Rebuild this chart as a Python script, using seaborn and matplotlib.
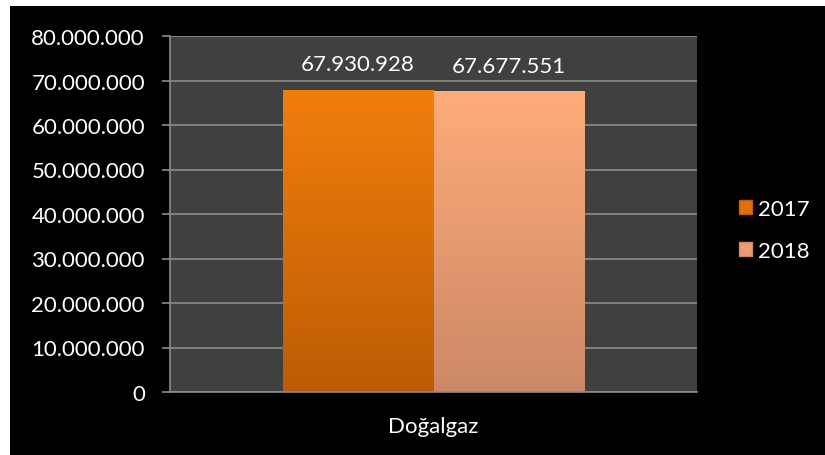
import numpy as np
import pandas as pd
import matplotlib
matplotlib.use("Agg")
import matplotlib.pyplot as plt
import matplotlib.colors as mcolors
from matplotlib.patches import Patch, Rectangle
from matplotlib.ticker import FuncFormatter, MultipleLocator
import seaborn as sns

# Data
kategoriler = ["Doğalgaz"]
yillar = ["2017", "2018"]
degerler = [67930928, 67677551]

df = pd.DataFrame({
    "kaynak": kategoriler * len(yillar),
    "yil": yillar,
    "deger": degerler,
})

# Style
sns.set_theme(style="dark")
plt.rcParams["font.family"] = ["Lato", "DejaVu Sans"]
TXT = "white"
FS = 16

renk_ust = ["#F27E0C", "#FFAC7A"]
renk_alt = ["#BC5C05", "#CC8866"]
renk_orta = ["#E07008", "#EE9C70"]

fig = plt.figure(figsize=(8.25, 4.56), dpi=100, facecolor="white")
# black chart area with thin white margin top/left
fig.patches.append(Rectangle((10 / 825, 0), 1, 1 - 7 / 456, transform=fig.transFigure,
                             facecolor="black", edgecolor="none", zorder=-10))

ax = fig.add_axes([170 / 825, 1 - 393 / 456, (697 - 170) / 825, (393 - 37) / 456])
ax.set_facecolor("#404040")

sns.barplot(data=df, x="kaynak", y="deger", hue="yil", palette=renk_orta,
            width=0.573, ax=ax, legend=False, saturation=1,
            edgecolor="#8a4a10", linewidth=0.6)

# gradient fill for bars
for i, p in enumerate(ax.patches):
    x0, y0 = p.get_x(), p.get_y()
    w, h = p.get_width(), p.get_height()
    cmap = mcolors.LinearSegmentedColormap.from_list("g", [renk_ust[i], renk_alt[i]])
    grad = np.linspace(0, 1, 256).reshape(-1, 1)
    im = ax.imshow(grad, cmap=cmap, extent=[x0, x0 + w, y0, y0 + h], aspect="auto",
                   origin="upper", zorder=p.get_zorder() + 0.1, interpolation="bicubic")
    im.set_clip_path(p)

# value labels
for i, p in enumerate(ax.patches):
    xc = p.get_x() + p.get_width() / 2
    ax.annotate(f"{degerler[i]:,}".replace(",", "."), (xc, p.get_height()),
                xytext=(0, 11), textcoords="offset points", ha="center", va="bottom",
                color=TXT, fontsize=FS)

ax.set_xlim(-0.5, 0.5)
ax.set_ylim(0, 80000000)
ax.set_aspect("auto")

ax.yaxis.set_major_locator(MultipleLocator(10000000))
ax.yaxis.set_major_formatter(FuncFormatter(lambda v, _: f"{int(v):,}".replace(",", ".")))
ax.grid(axis="y", color="#8C8C8C", linewidth=1.2)
ax.grid(axis="x", visible=False)
ax.set_axisbelow(True)

ax.set_xticks([0])
ax.set_xticklabels(kategoriler)
ax.set_xticks([-0.5, 0.5], minor=True)
ax.tick_params(axis="x", which="major", length=0, pad=17, colors=TXT, labelsize=FS)
ax.tick_params(axis="x", which="minor", length=6, width=1.2, color="#8C8C8C", direction="out")
ax.tick_params(axis="y", length=6, width=1.2, color="#8C8C8C", pad=12, labelsize=FS,
               labelcolor=TXT, left=True, direction="out")
ax.set_xlabel("")
ax.set_ylabel("")

for s in ["top", "right"]:
    ax.spines[s].set_visible(False)
for s in ["left", "bottom"]:
    ax.spines[s].set_visible(True)
    ax.spines[s].set_color("#8C8C8C")
    ax.spines[s].set_linewidth(1.2)

handles = [Patch(facecolor=renk_orta[i], edgecolor=renk_alt[i], label=y) for i, y in enumerate(yillar)]
leg = fig.legend(handles=handles, loc="center left", bbox_to_anchor=(728 / 825, 1 - 231 / 456),
                 frameon=False, fontsize=FS, handlelength=0.6, handleheight=0.6,
                 handletextpad=0.25, labelspacing=1.0, borderpad=0)
for t in leg.get_texts():
    t.set_color(TXT)

fig.savefig("out.png", dpi=100, facecolor=fig.get_facecolor())
